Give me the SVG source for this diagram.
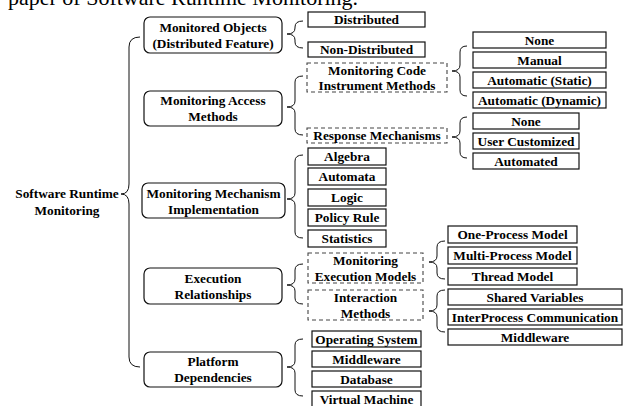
<svg xmlns="http://www.w3.org/2000/svg" width="623" height="406" viewBox="0 0 623 406">
<style>
text{font-family:"Liberation Serif","Times New Roman",serif;font-weight:bold;font-size:13.3px;fill:#000;text-anchor:middle;dominant-baseline:central}
.title{font-weight:normal;font-size:22px;text-anchor:start;dominant-baseline:alphabetic}
.n1{fill:#fff;stroke:#111;stroke-width:1.2}
.box{fill:#fff;stroke:#111;stroke-width:1.2}
.dash{fill:#fff;stroke:#444;stroke-width:1.1;stroke-dasharray:4 3}
.brace{fill:none;stroke:#111;stroke-width:1}
</style>
<rect width="623" height="406" fill="#fff"/>
<text class="title" x="8" y="5">paper of Software Runtime Monitoring.</text>

<g id="connectors">
<path class="brace" d="M140,37 Q129,37 129,47 L129,184 Q129,194 121,194 Q129,194 129,204 L129,357 Q129,367 140,367"/>
<path class="brace" d="M303,21 Q295,21 295,27 L295,28 Q295,34 287,34 Q295,34 295,40 L295,42 Q295,48 303,48"/>
<path class="brace" d="M303,76 Q295,76 295,82 L295,101 Q295,107 287,107 Q295,107 295,113 L295,129 Q295,135 303,135"/>
<path class="brace" d="M303,155 Q295,155 295,161 L295,193 Q295,199 287,199 Q295,199 295,205 L295,232 Q295,238 303,238"/>
<path class="brace" d="M303,264 Q295,264 295,270 L295,279 Q295,285 287,285 Q295,285 295,291 L295,298 Q295,304 303,304"/>
<path class="brace" d="M303,339 Q295,339 295,345 L295,361 Q295,367 287,367 Q295,367 295,373 L295,390 Q295,396 303,396"/>
<path class="brace" d="M467,46 Q460,46 460,52 L460,65 Q460,71 452,71 Q460,71 460,77 L460,90 Q460,96 467,96"/>
<path class="brace" d="M467,117 Q460,117 460,123 L460,131 Q460,137 452,137 Q460,137 460,143 L460,152 Q460,158 467,158"/>
<path class="brace" d="M445,241 Q437,241 437,247 L437,256 Q437,262 429,262 Q437,262 437,268 L437,273 Q437,279 445,279"/>
<path class="brace" d="M445,290 Q437,290 437,296 L437,305 Q437,311 429,311 Q437,311 437,317 L437,326 Q437,332 445,332"/>
</g>

<g id="root"><text x="67" y="193">Software Runtime</text><text x="67" y="210">Monitoring</text></g>

<g id="monitored-objects"><rect class="n1" x="144" y="17" width="138" height="36" rx="6"/><text x="213" y="27">Monitored Objects</text><text x="213" y="43">(Distributed Feature)</text></g>
<g id="access-methods"><rect class="n1" x="144" y="91" width="138" height="35" rx="6"/><text x="213" y="100.5">Monitoring Access</text><text x="213" y="116">Methods</text></g>
<g id="mechanism"><rect class="n1" x="142" y="183" width="143" height="35" rx="6"/><text x="213.5" y="193">Monitoring Mechanism</text><text x="213.5" y="209">Implementation</text></g>
<g id="execution"><rect class="n1" x="144" y="268" width="138" height="36" rx="6"/><text x="213" y="278">Execution</text><text x="213" y="294">Relationships</text></g>
<g id="platform"><rect class="n1" x="144" y="352" width="138" height="35" rx="6"/><text x="213" y="361">Platform</text><text x="213" y="377">Dependencies</text></g>

<g id="distributed"><rect class="box" x="308" y="12" width="117" height="15"/><text x="366.5" y="19.5">Distributed</text></g>
<g id="non-distributed"><rect class="box" x="308" y="42" width="117" height="15"/><text x="366.5" y="49.5">Non-Distributed</text></g>
<g id="instrument"><rect class="dash" x="307" y="63" width="140" height="29"/><text x="377" y="70">Monitoring Code</text><text x="377" y="85">Instrument Methods</text></g>
<g id="response"><rect class="dash" x="307" y="128" width="140" height="15"/><text x="377" y="135.5">Response Mechanisms</text></g>

<g id="im-none"><rect class="box" x="473" y="32" width="133" height="16"/><text x="539.5" y="40">None</text></g>
<g id="im-manual"><rect class="box" x="473" y="52" width="133" height="16"/><text x="539.5" y="60">Manual</text></g>
<g id="im-static"><rect class="box" x="473" y="72" width="133" height="16"/><text x="539.5" y="80">Automatic (Static)</text></g>
<g id="im-dynamic"><rect class="box" x="473" y="92" width="133" height="16"/><text x="539.5" y="100">Automatic (Dynamic)</text></g>

<g id="rm-none"><rect class="box" x="473" y="113" width="106" height="16"/><text x="526" y="121">None</text></g>
<g id="rm-user"><rect class="box" x="473" y="133" width="106" height="16"/><text x="526" y="141">User Customized</text></g>
<g id="rm-auto"><rect class="box" x="473" y="153" width="106" height="16"/><text x="526" y="161">Automated</text></g>

<g id="algebra"><rect class="box" x="308" y="148" width="78" height="17"/><text x="347" y="156.5">Algebra</text></g>
<g id="automata"><rect class="box" x="308" y="168" width="78" height="17"/><text x="347" y="176.5">Automata</text></g>
<g id="logic"><rect class="box" x="308" y="189" width="78" height="17"/><text x="347" y="197.5">Logic</text></g>
<g id="policy"><rect class="box" x="308" y="209" width="78" height="17"/><text x="347" y="217.5">Policy Rule</text></g>
<g id="statistics"><rect class="box" x="308" y="230" width="78" height="17"/><text x="347" y="238.5">Statistics</text></g>

<g id="exec-models"><rect class="dash" x="308" y="253" width="115" height="30"/><text x="365.5" y="260">Monitoring</text><text x="365.5" y="276">Execution Models</text></g>
<g id="interaction"><rect class="dash" x="308" y="290" width="115" height="30"/><text x="365.5" y="297">Interaction</text><text x="365.5" y="313">Methods</text></g>

<g id="one-process"><rect class="box" x="448" y="226" width="129" height="17"/><text x="512.5" y="234.5">One-Process Model</text></g>
<g id="multi-process"><rect class="box" x="448" y="247" width="129" height="17"/><text x="512.5" y="255.5">Multi-Process Model</text></g>
<g id="thread"><rect class="box" x="448" y="268" width="129" height="17"/><text x="512.5" y="276.5">Thread Model</text></g>

<g id="shared"><rect class="box" x="448" y="289" width="174" height="16"/><text x="535" y="297">Shared Variables</text></g>
<g id="ipc"><rect class="box" x="448" y="309" width="174" height="16"/><text x="535" y="317">InterProcess Communication</text></g>
<g id="int-middleware"><rect class="box" x="448" y="329" width="174" height="16"/><text x="535" y="337">Middleware</text></g>

<g id="os"><rect class="box" x="312" y="331" width="109" height="16"/><text x="366.5" y="339">Operating System</text></g>
<g id="pf-middleware"><rect class="box" x="312" y="351" width="109" height="16"/><text x="366.5" y="359">Middleware</text></g>
<g id="database"><rect class="box" x="312" y="371" width="109" height="16"/><text x="366.5" y="379">Database</text></g>
<g id="vm"><rect class="box" x="312" y="391" width="109" height="16"/><text x="366.5" y="399">Virtual Machine</text></g>
</svg>
